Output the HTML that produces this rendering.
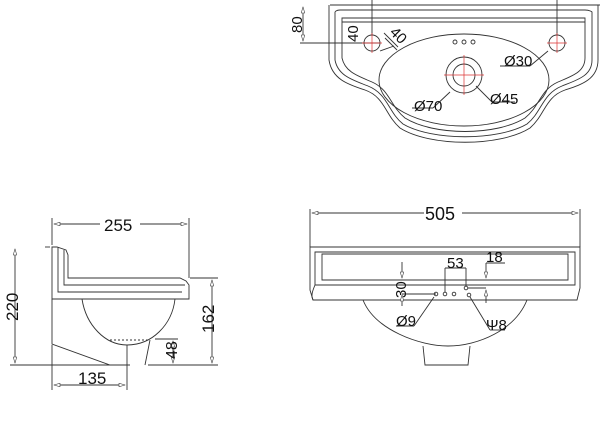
<!DOCTYPE html>
<html><head><meta charset="utf-8"><style>
html,body{margin:0;padding:0;background:#fff;}
svg{display:block}
text{font-family:"Liberation Sans",sans-serif;fill:#111;}
</style></head><body>
<svg width="600" height="441" viewBox="0 0 600 441" xmlns="http://www.w3.org/2000/svg">
<defs>
<marker id="a" viewBox="0 0 10 6" refX="10" refY="3" markerWidth="8" markerHeight="4" orient="auto-start-reverse"><path d="M0,0 L10,3 L0,6 Z" fill="#fff" stroke="#444" stroke-width="1"/></marker>
</defs>
<g fill="none" stroke="#333" stroke-width="0.9">
<!-- TOP VIEW -->
<line x1="330" y1="5" x2="600" y2="5"/>
<line x1="300" y1="43" x2="365" y2="43"/>
<line x1="303" y1="7" x2="303" y2="41" marker-start="url(#a)" marker-end="url(#a)"/>
<path d="M329,5 L329,60 C332,80 350,85 365,90 C385,97 385,115 400,128 C430,147 500,147 530,128 C545,115 545,97 565,90 C580,85 598,80 598,60 L598,5"/>
<path d="M335,12 L335,60 C338,76 353,80 368,86 C388,94 388,112 403,124 C432,141 498,141 527,124 C542,112 542,94 562,86 C577,80 592,76 592,60 L592,12 C592,12 590,10 585,10 L340,10 C336,10 335,12 335,12"/>
<path d="M342,18 L342,58 C345,72 358,76 372,82 C390,90 390,106 405,118 C434,136 496,136 525,118 C540,106 540,90 558,82 C572,76 585,72 585,58 L585,18 Z"/>
<line x1="342" y1="22" x2="585" y2="22"/>
<ellipse cx="464" cy="80" rx="85" ry="46"/>
<circle cx="372" cy="43" r="8"/>
<circle cx="557" cy="43" r="8"/>
<circle cx="464" cy="75" r="18"/>
<circle cx="464" cy="75" r="11"/>
<circle cx="455" cy="42" r="2"/><circle cx="464" cy="42" r="2"/><circle cx="473" cy="42" r="2"/>
<line x1="372" y1="0" x2="372" y2="35"/>
<line x1="557" y1="0" x2="557" y2="35"/>
<line x1="354" y1="43" x2="380" y2="43"/>
<line x1="384" y1="33" x2="398" y2="47"/>
<line x1="397" y1="50" x2="385" y2="38"/>
<line x1="380" y1="51" x2="394" y2="46"/>
<line x1="500" y1="66" x2="530" y2="66"/>
<line x1="530" y1="66" x2="548" y2="51"/>
<line x1="450" y1="92" x2="433" y2="108"/><line x1="412" y1="108" x2="433" y2="108"/>
<line x1="476" y1="86" x2="492" y2="102"/><line x1="492" y1="102" x2="515" y2="102"/>
</g>
<g stroke="#d33" stroke-width="0.7">
<line x1="362" y1="43" x2="382" y2="43"/><line x1="372" y1="33" x2="372" y2="53"/>
<line x1="547" y1="43" x2="567" y2="43"/><line x1="557" y1="33" x2="557" y2="53"/>
<line x1="444" y1="75" x2="484" y2="75"/><line x1="464" y1="55" x2="464" y2="95"/>
</g>
<text x="0" y="0" font-size="15" transform="translate(302,33) rotate(-90)">80</text>
<text x="0" y="0" font-size="15" transform="translate(358,42) rotate(-90)">40</text>
<text x="0" y="0" font-size="15" transform="translate(389,33) rotate(45)">40</text>
<text x="504" y="66" font-size="15">Ø30</text>
<text x="414" y="111" font-size="15">Ø70</text>
<text x="490" y="104" font-size="15">Ø45</text>

<!-- SIDE VIEW -->
<g fill="none" stroke="#333" stroke-width="0.9">
<line x1="52" y1="218" x2="52" y2="245"/>
<line x1="189" y1="218" x2="189" y2="278"/>
<line x1="54" y1="224" x2="100" y2="224" marker-start="url(#a)"/>
<line x1="140" y1="224" x2="187" y2="224" marker-end="url(#a)"/>
<path d="M52,247 L57,247 L66,250 L68,255 L68,278 L180,278 L186,281 L189,285 L189,299 L52,299 Z"/>
<path d="M58,247 L58,292 L182,292"/>
<path d="M64,250 L64,285 L185,285"/>
<path d="M52,299 L52,344 L110,365 L114,365"/>
<path d="M82,299 C86,325 105,345 127,345 C152,345 172,325 175,299"/>
<path d="M110,340 L150,340" stroke-dasharray="2,2"/>
<path d="M150,340 L145,365"/>
<line x1="45" y1="247" x2="50" y2="247"/>
<line x1="15" y1="249" x2="15" y2="363" marker-start="url(#a)" marker-end="url(#a)"/>
<line x1="10" y1="365" x2="130" y2="365"/><line x1="148" y1="365" x2="218" y2="365"/>
<line x1="190" y1="278" x2="218" y2="278"/>
<line x1="212" y1="280" x2="212" y2="363" marker-start="url(#a)" marker-end="url(#a)"/>
<line x1="155" y1="339" x2="178" y2="339"/>
<line x1="173" y1="341" x2="173" y2="363" marker-start="url(#a)" marker-end="url(#a)"/>
<line x1="52" y1="345" x2="52" y2="390"/><line x1="127" y1="345" x2="127" y2="390"/>
<line x1="54" y1="385" x2="125" y2="385" marker-start="url(#a)" marker-end="url(#a)"/>
</g>
<text x="104" y="231" font-size="17">255</text>
<text x="0" y="0" font-size="17" transform="translate(18,321) rotate(-90)">220</text>
<text x="0" y="0" font-size="17" transform="translate(214,333) rotate(-90)">162</text>
<text x="0" y="0" font-size="16" transform="translate(177,359) rotate(-90)">48</text>
<text x="78" y="384" font-size="17">135</text>

<!-- FRONT VIEW -->
<g fill="none" stroke="#333" stroke-width="0.9">
<line x1="310" y1="209" x2="310" y2="247"/><line x1="580" y1="209" x2="580" y2="247"/>
<line x1="312" y1="213" x2="424" y2="213" marker-start="url(#a)"/>
<line x1="462" y1="213" x2="578" y2="213" marker-end="url(#a)"/>
<path d="M310,247 L580,247 L580,288 L577,300 L313,300 L310,290 Z"/>
<path d="M315,252 L575,252 L575,285 L315,285 Z" />
<path d="M322,254 L568,254 L568,280 L322,280 Z"/>
<path d="M315,285 C312,292 311,296 313,300"/>
<path d="M363,300 C375,330 420,346 448,346 C478,346 515,330 527,300"/>
<path d="M423,346 L425,365 L468,365 L470,346"/>
<line x1="402" y1="262" x2="402" y2="278" marker-end="url(#a)"/>
<line x1="402" y1="306" x2="402" y2="295" marker-end="url(#a)"/>
<line x1="402" y1="294" x2="436" y2="294"/>
<circle cx="436" cy="294" r="1.8"/><circle cx="445" cy="294" r="1.8"/><circle cx="454" cy="294" r="1.8"/>
<circle cx="466" cy="288" r="1.8"/><circle cx="469" cy="295" r="1.8"/>
<line x1="445" y1="268" x2="445" y2="292"/><line x1="445" y1="268" x2="466" y2="268"/><line x1="466" y1="268" x2="466" y2="286"/>
<line x1="468" y1="288" x2="486" y2="288"/>
<line x1="486" y1="263" x2="486" y2="278" marker-end="url(#a)"/>
<line x1="486" y1="303" x2="486" y2="290" marker-end="url(#a)"/>
<line x1="486" y1="263" x2="505" y2="263"/>
<line x1="434" y1="297" x2="414" y2="326"/><line x1="396" y1="326" x2="414" y2="326"/>
<line x1="470" y1="297" x2="490" y2="330"/><line x1="490" y1="330" x2="505" y2="330"/>
</g>
<text x="0" y="0" font-size="15" transform="translate(406,298) rotate(-90)">30</text>
<text x="447" y="268" font-size="15">53</text>
<text x="486" y="262" font-size="15">18</text>
<text x="396" y="326" font-size="15">Ø9</text>
<text x="486" y="330" font-size="15">Ψ8</text>
<text x="425" y="220" font-size="18">505</text>
</svg>
</body></html>
